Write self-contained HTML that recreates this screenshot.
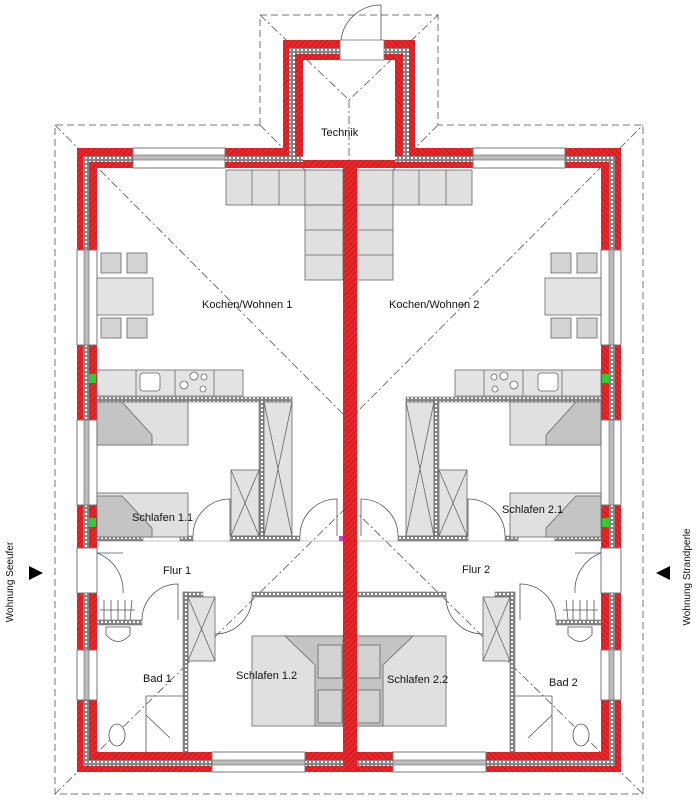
<!DOCTYPE html>
<html><head><meta charset="utf-8"><style>
html,body{margin:0;padding:0;background:#fff;}
svg{display:block;}
text{font-family:"Liberation Sans",Arial,sans-serif;font-size:11px;fill:#111;}
</style></head><body>
<svg width="698" height="800" viewBox="0 0 698 800" xmlns="http://www.w3.org/2000/svg">
<defs>
<pattern id="h" width="4" height="4" patternUnits="userSpaceOnUse" patternTransform="rotate(45)">
<rect width="4" height="4" fill="#e8262a"/><line x1="0" y1="0" x2="0" y2="4" stroke="#a01015" stroke-width="1"/>
</pattern>
<pattern id="ins" width="4" height="4" patternUnits="userSpaceOnUse">
<rect width="4" height="4" fill="#fff"/><rect x="0.5" y="0.5" width="3" height="3" fill="none" stroke="#666" stroke-width="0.8"/>
</pattern>
<g id="half">
<!-- walls -->
<rect x="77" y="148" width="226" height="20" fill="url(#h)"/>
<rect x="77" y="148" width="20" height="624" fill="url(#h)"/>
<rect x="77" y="752" width="272" height="20" fill="url(#h)"/>
<rect x="283" y="40" width="20" height="128" fill="url(#h)"/>
<rect x="283" y="40" width="66" height="20" fill="url(#h)"/>
<rect x="343" y="160" width="6" height="612" fill="url(#h)"/>
<!-- insulation -->
<rect x="83" y="156" width="220" height="6" fill="url(#ins)"/>
<rect x="83" y="156" width="6" height="610" fill="url(#ins)"/>
<rect x="83" y="760" width="266" height="6" fill="url(#ins)"/>
<rect x="289" y="48" width="6" height="114" fill="url(#ins)"/>
<rect x="289" y="48" width="60" height="6" fill="url(#ins)"/>
<!-- windows -->
<g fill="#fff" stroke="#777" stroke-width="1">
<rect x="133" y="148" width="92" height="20"/>
<rect x="77" y="250" width="20" height="95"/>
<rect x="77" y="420" width="20" height="85"/>
<rect x="77" y="650" width="20" height="50"/>
<rect x="212" y="752" width="93" height="20"/>
</g>
<g fill="#bbb" stroke="#666" stroke-width="0.6">
<rect x="133" y="155" width="92" height="5"/>
<rect x="84" y="250" width="5" height="95"/>
<rect x="84" y="420" width="5" height="85"/>
<rect x="84" y="650" width="5" height="50"/>
<rect x="212" y="760" width="93" height="5"/>
</g>
<!-- Flur entrance -->
<rect x="77" y="548" width="20" height="45" fill="#fff" stroke="#777"/>
<path d="M97 553 A40 40 0 0 1 123 593" fill="none" stroke="#555" stroke-width="0.8"/>
<line x1="97" y1="553" x2="123" y2="553" stroke="#555" stroke-width="0.8"/>
<!-- green -->
<rect x="89" y="374" width="7" height="9" fill="#3c3"/>
<rect x="89" y="518" width="7" height="9" fill="#3c3"/>
<!-- interior walls -->
<g fill="url(#ins)" stroke="#777" stroke-width="0.6">
<rect x="97" y="397" width="195" height="5"/>
<rect x="259" y="397" width="5" height="140"/>
<rect x="97" y="536" width="46" height="5"/>
<rect x="180" y="536" width="13" height="5"/>
<rect x="230" y="536" width="70" height="5"/>
<rect x="183" y="592" width="20" height="5"/>
<rect x="252" y="592" width="91" height="5"/>
<rect x="183" y="592" width="5" height="160"/>
<rect x="97" y="620" width="45" height="5"/>
</g>
<line x1="143" y1="541" x2="343" y2="541" stroke="#888" stroke-width="0.6"/>
<!-- sofa -->
<g fill="#e0e0e0" stroke="#666" stroke-width="0.8">
<rect x="226" y="170" width="117" height="35"/>
<rect x="305" y="205" width="38" height="75"/>
<line x1="252" y1="170" x2="252" y2="205"/><line x1="279" y1="170" x2="279" y2="205"/><line x1="305" y1="170" x2="305" y2="205"/>
<line x1="305" y1="230" x2="343" y2="230"/><line x1="305" y1="255" x2="343" y2="255"/>
</g>
<!-- dining -->
<g fill="#d4d4d4" stroke="#666" stroke-width="0.8">
<rect x="101" y="253" width="20" height="20"/><rect x="127" y="253" width="20" height="20"/>
<rect x="101" y="318" width="20" height="20"/><rect x="127" y="318" width="20" height="20"/>
<rect x="97" y="278" width="56" height="37" fill="#e4e4e4"/>
</g>
<!-- kitchen -->
<g fill="#e4e4e4" stroke="#666" stroke-width="0.8">
<rect x="97" y="370" width="146" height="26"/>
<line x1="136" y1="370" x2="136" y2="396"/><line x1="175" y1="370" x2="175" y2="396"/><line x1="214" y1="370" x2="214" y2="396"/>
<rect x="140" y="373" width="20" height="18" rx="3" fill="#fff"/>
<circle cx="184" cy="385" r="4" fill="#fff"/><circle cx="194" cy="376" r="4" fill="#fff"/><circle cx="204" cy="377" r="3" fill="#fff"/><circle cx="203" cy="389" r="3" fill="#fff"/>
</g>
<!-- beds 1.1 -->
<g stroke="#666" stroke-width="0.8">
<rect x="97" y="402" width="91" height="43" fill="#e0e0e0"/>
<path d="M97 402 H122 L152 435 V445 H97Z" fill="#c4c4c4"/>
<rect x="97" y="493" width="91" height="44" fill="#e0e0e0"/>
<path d="M97 496 H122 L152 528 V537 H97Z" fill="#c4c4c4"/>
</g>
<!-- wardrobes -->
<g fill="#e2e2e2" stroke="#666" stroke-width="0.8">
<rect x="231" y="470" width="28" height="66"/>
<path d="M231 470 L259 536 M259 470 L231 536" fill="none"/>
<rect x="264" y="402" width="28" height="134"/>
<path d="M264 402 L292 536 M292 402 L264 536" fill="none"/>
<rect x="188" y="597" width="27" height="64"/>
<path d="M188 597 L215 661 M215 597 L188 661" fill="none"/>
</g>
<!-- doors -->
<g fill="none" stroke="#555" stroke-width="0.8">
<path d="M193 536 A37 37 0 0 1 230 499 V536"/>
<path d="M300 536 A37 37 0 0 1 337 499 V536"/>
<path d="M142 620 A36 36 0 0 1 178 584 V620"/>
<path d="M252 597 A37 37 0 0 1 215 634"/>
</g>
<!-- bath -->
<g fill="none" stroke="#555" stroke-width="0.8">
<path d="M100 610 H135 M104 600 V620 M111 600 V620 M118 600 V620 M125 600 V620 M132 600 L130 620"/>
<path d="M106 627 H130 V635 Q118 648 106 635Z" fill="#fff"/>
<ellipse cx="117" cy="735" rx="8" ry="11" fill="#fff"/>
<path d="M146 696 H183 M146 696 V752 M146 715 L170 738"/>
</g>
<!-- bed 1.2 -->
<g stroke="#666" stroke-width="0.8">
<rect x="252" y="636" width="91" height="90" fill="#e0e0e0"/>
<path d="M285 636 H343 V726 H315 V665Z" fill="#c4c4c4"/>
<rect x="318" y="645" width="24" height="33" fill="#d2d2d2"/><rect x="318" y="690" width="24" height="33" fill="#d2d2d2"/>
</g>
</g>
</defs>

<!-- roof outline dashed -->
<g fill="none" stroke="#777" stroke-width="1" stroke-dasharray="7,4">
<path d="M260 125 V15 H438 V125 H643 V794 H55 V125 Z"/>
</g>
<g fill="none" stroke="#555" stroke-width="0.8" stroke-dasharray="8,3,2,3">
<path d="M55 125 L349 420 L643 125"/>
<path d="M55 794 L349 505 L643 794"/>
<path d="M260 15 L349 100 L438 15"/>
<path d="M349 100 V160"/>
<path d="M260 125 L283 148 M438 125 L415 148"/>
<path d="M303 168 L343 205 M395 168 L357 205"/>
</g>

<use href="#half"/>
<use href="#half" transform="translate(698,0) scale(-1,1)"/>

<!-- center wall on top -->
<rect x="343" y="160" width="14" height="612" fill="url(#h)"/>
<rect x="303" y="160" width="92" height="8" fill="url(#h)"/>
<!-- technik door -->
<rect x="340" y="40" width="44" height="20" fill="#fff" stroke="#777" stroke-width="0.8"/>
<path d="M341 40 A40 40 0 0 1 381 5 V40" fill="none" stroke="#555" stroke-width="0.8"/>
<rect x="339" y="536" width="4" height="5" fill="#c4c"/>

<text x="321" y="136">Technik</text>
<text x="202" y="308">Kochen/Wohnen 1</text>
<text x="389" y="308">Kochen/Wohnen 2</text>
<text x="132" y="521">Schlafen 1.1</text>
<text x="502" y="513">Schlafen 2.1</text>
<text x="163" y="574">Flur 1</text>
<text x="462" y="573">Flur 2</text>
<text x="143" y="682">Bad 1</text>
<text x="236" y="679">Schlafen 1.2</text>
<text x="387" y="683">Schlafen 2.2</text>
<text x="549" y="686">Bad 2</text>

<text transform="translate(13,582) rotate(-90)" text-anchor="middle" style="font-size:10px">Wohnung Seeufer</text>
<text transform="translate(690,577) rotate(-90)" text-anchor="middle" style="font-size:10px">Wohnung Strandperle</text>
<path d="M29 566 L43 573 L29 580Z" fill="#000"/>
<path d="M670 566 L656 573 L670 580Z" fill="#000"/>
</svg>
</body></html>
